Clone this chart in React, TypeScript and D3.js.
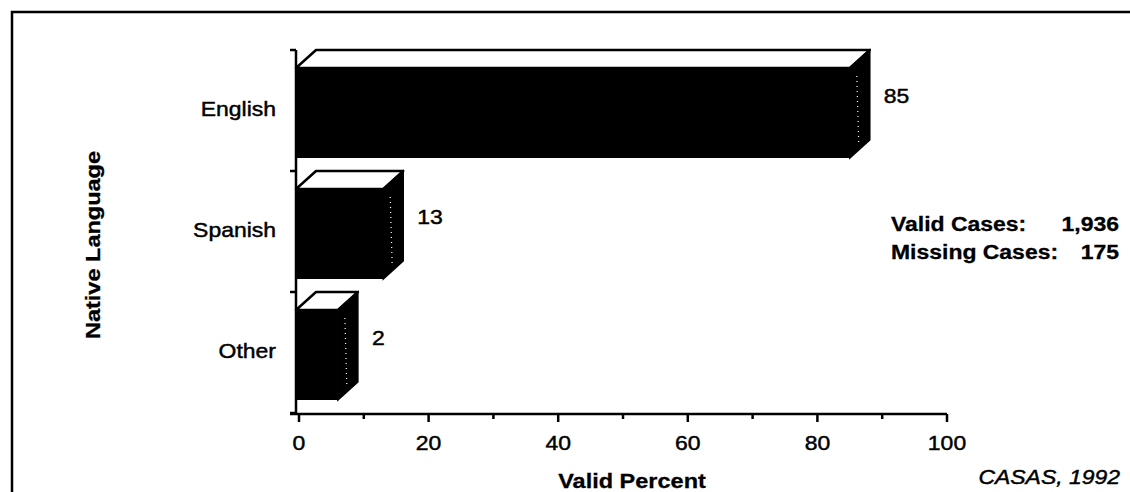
import React from "react";
import * as d3 from "d3";

const categories = ["English", "Spanish", "Other"];
const values = [85, 13, 2];
const xTicks = [0, 20, 40, 60, 80, 100];
const minorTicks = [10, 30, 50, 70, 90];
const statsLabels = ["Valid Cases:", "Missing Cases:"];
const statsValues = ["1,936", "175"];

const W = 1130;
const H = 492;
const FONT = "'Liberation Sans', Arial, Helvetica, sans-serif";
const SX = 1.12;

type TP = {
  x: number;
  y: number;
  anchor?: "start" | "middle" | "end";
  size?: number;
  bold?: boolean;
  italic?: boolean;
  rotate?: number;
  children: React.ReactNode;
};

function T({ x, y, anchor = "start", size = 20.5, bold, italic, rotate = 0, children }: TP) {
  return (
    <text
      transform={`translate(${x},${y}) rotate(${rotate}) scale(${SX},1)`}
      textAnchor={anchor}
      fontSize={size}
      fontWeight={bold ? "bold" : "normal"}
      fontStyle={italic ? "italic" : "normal"}
      fill="#000"
      stroke="#000"
      strokeWidth={bold ? 0.3 : 0.45}
    >
      {children}
    </text>
  );
}

export default function App() {
  const x = d3.scaleLinear().domain([0, 100]).range([299, 947]);
  const y = d3.scaleBand<string>().domain(categories).range([50, 413]).paddingInner(0);
  const bw = y.bandwidth();
  const dx = 20;
  const dy = 18;
  const frontH = 90;
  const minShown = 6;
  const x0 = x(0);
  const axisX = x0 - 3;
  const axisY = 414;

  return (
    <svg
      width={W}
      height={H}
      style={{ position: "absolute", left: 0, top: 0, background: "#fff" }}
      fontFamily={FONT}
    >
      <rect x={0} y={0} width={W} height={H} fill="#fff" />
      {/* frame */}
      <path d={`M12,${H} V12 H${W}`} fill="none" stroke="#000" strokeWidth={2.5} />

      {/* bars */}
      {categories.map((c, i) => {
        const top = y(c)!;
        const xe = x(Math.max(values[i], minShown));
        const xs = axisX;
        const fy = top + dy;
        return (
          <g key={c}>
            <rect x={xs} y={fy} width={xe - xs} height={frontH} fill="#000" />
            <polygon
              points={`${xs},${fy} ${xs + dx},${top} ${xe + dx},${top} ${xe},${fy}`}
              fill="#fff"
              stroke="#000"
              strokeWidth={2.5}
              strokeLinejoin="round"
            />
            <polygon
              points={`${xe},${fy} ${xe + dx},${top} ${xe + dx},${top + frontH} ${xe},${fy + frontH}`}
              fill="#000"
              stroke="#000"
              strokeWidth={1.5}
            />
            <line
              x1={xe + 7}
              y1={fy + 8}
              x2={xe + 9}
              y2={fy + frontH - 12}
              stroke="#fff"
              strokeWidth={1.2}
              strokeDasharray="1 4"
            />
            <T x={xe + dx + 14} y={top + 53}>
              {values[i]}
            </T>
            <T x={276} y={top + bw / 2 + 5} anchor="end">
              {c}
            </T>
          </g>
        );
      })}

      {/* y axis */}
      <line x1={axisX} y1={y.range()[0]} x2={axisX} y2={axisY} stroke="#000" strokeWidth={2.5} />
      {[...categories.map((c) => y(c)!), y.range()[1]].map((t, i) => (
        <line key={i} x1={axisX - 6} y1={t} x2={axisX} y2={t} stroke="#000" strokeWidth={2.5} />
      ))}

      {/* x axis */}
      <line x1={axisX - 6} y1={axisY} x2={x(100)} y2={axisY} stroke="#000" strokeWidth={2.5} />
      {xTicks.map((t) => (
        <g key={t}>
          <line x1={x(t)} y1={axisY} x2={x(t)} y2={axisY + 8} stroke="#000" strokeWidth={2.5} />
          <T x={x(t)} y={450} anchor="middle">
            {t}
          </T>
        </g>
      ))}
      {minorTicks.map((t) => (
        <line key={t} x1={x(t)} y1={axisY} x2={x(t)} y2={axisY + 5} stroke="#000" strokeWidth={2.5} />
      ))}

      {/* axis titles */}
      <T x={632} y={488} anchor="middle" bold size={21}>
        Valid Percent
      </T>
      <T x={100} y={245} anchor="middle" bold size={21} rotate={-90}>
        Native Language
      </T>

      {/* stats */}
      {statsLabels.map((s, i) => (
        <g key={s}>
          <T x={891} y={231 + i * 28} bold>
            {s}
          </T>
          <T x={1119} y={231 + i * 28} bold anchor="end">
            {statsValues[i]}
          </T>
        </g>
      ))}

      <T x={1120} y={484} italic anchor="end">
        CASAS, 1992
      </T>
    </svg>
  );
}
